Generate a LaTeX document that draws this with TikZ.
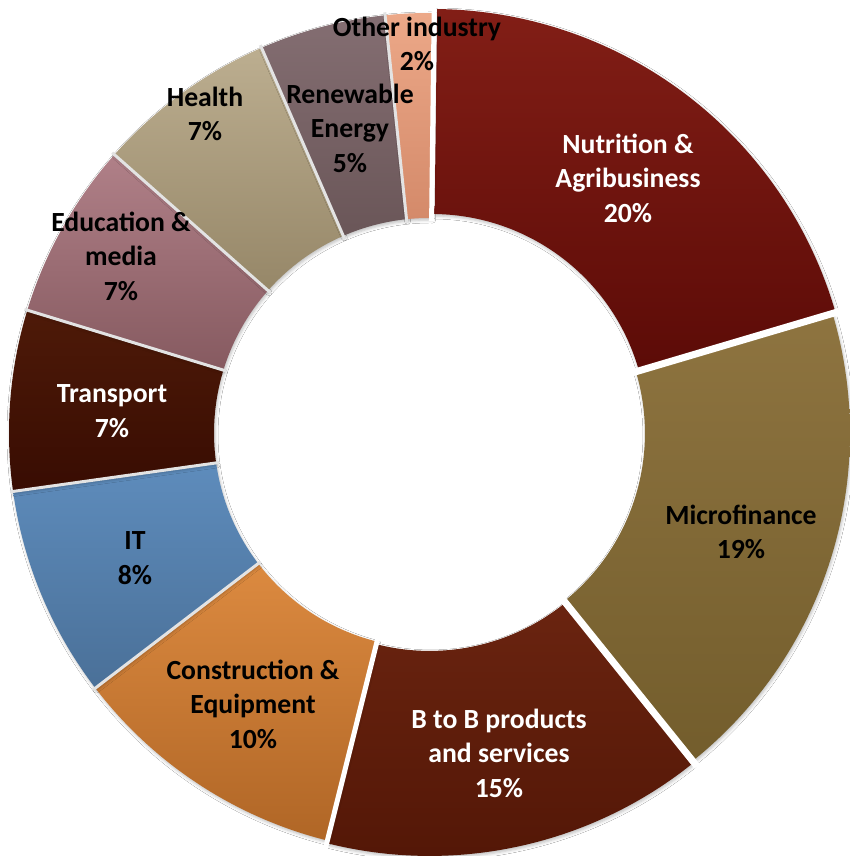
\documentclass[tikz,border=0pt]{standalone}
\usepackage{fontspec}
\setmainfont{Carlito}
\usetikzlibrary{shadows.blur}
\definecolor{nutT}{HTML}{821E16}\definecolor{nutB}{HTML}{5C0B07}
\definecolor{micT}{HTML}{8E7440}\definecolor{micB}{HTML}{735D2C}
\definecolor{btbT}{HTML}{6A2410}\definecolor{btbB}{HTML}{521606}
\definecolor{conT}{HTML}{DC8A40}\definecolor{conB}{HTML}{B06626}
\definecolor{itT}{HTML}{5E8CBC}\definecolor{itB}{HTML}{4A7098}
\definecolor{trT}{HTML}{4E1A08}\definecolor{trB}{HTML}{380C02}
\definecolor{edT}{HTML}{B08088}\definecolor{edB}{HTML}{865A60}
\definecolor{heT}{HTML}{BCAE90}\definecolor{heB}{HTML}{968768}
\definecolor{reT}{HTML}{846E72}\definecolor{reB}{HTML}{6A5658}
\definecolor{otT}{HTML}{ECA888}\definecolor{otB}{HTML}{D48A6A}
\def\Rout{420}
\def\Rin{215}
\newcommand{\ringslice}[5]{%
  \path[top color=#3, bottom color=#4, shift={({(#1+#2)/2}:#5)},
        blur shadow={shadow xshift=1pt, shadow yshift=-2pt, shadow blur radius=3pt, shadow opacity=25}]
    (#1:\Rout) arc[start angle=#1, end angle=#2, radius=\Rout]
    -- (#2:\Rin) arc[start angle=#2, end angle=#1, radius=\Rin] -- cycle;}
\tikzset{
  lbl/.style={font=\bfseries\fontsize{27.7}{34.5}\selectfont, align=center, inner sep=0pt},
  sepline/.style={draw=gray!22, line width=3pt},
  gapline/.style={draw=white, line width=7pt},
}
\begin{document}
\begin{tikzpicture}[x=1pt,y=1pt]
\fill[white] (0,0) rectangle (850,856);
\useasboundingbox (0,0) rectangle (850,856);
\begin{scope}[shift={(429,423)}]
  \ringslice{89.3}{16.5}{nutT}{nutB}{5}
  \ringslice{16.5}{-51.2}{micT}{micB}{1}
  \ringslice{-51.2}{-104}{btbT}{btbB}{3}
  \ringslice{-104}{-142.6}{conT}{conB}{0}
  \ringslice{-142.6}{-172}{itT}{itB}{0}
  \ringslice{-172}{-197}{trT}{trB}{0}
  \ringslice{-197}{-221.5}{edT}{edB}{0}
  \ringslice{-221.5}{-246.5}{heT}{heB}{0}
  \ringslice{-246.5}{-264}{reT}{reB}{0}
  \ringslice{-264}{-270.7}{otT}{otB}{0}
  % separators
  \foreach \a in {-142.6,-172,-197,-221.5,-246.5,-264}
    \draw[sepline] (\a:\Rin-3) -- (\a:\Rout+3);
  \foreach \a in {16.5,-51.2}
    \draw[gapline] (\a:\Rin-3) -- (\a:\Rout+8);
  \foreach \a in {-104,89.3}
    \draw[gapline, line width=5pt] (\a:\Rin-3) -- (\a:\Rout+8);
\end{scope}
\node[lbl, text=white] (nut) at (628,678) {Nutrition \&\\Agribusiness\\20\%};
\node[lbl] (mic) at (741,324) {Microfinance\\19\%};
\node[lbl, text=white] (btb) at (499,103) {B to B products\\and services\\15\%};
\node[lbl] (con) at (253,152) {Construction \&\\Equipment\\10\%};
\node[lbl] (it) at (135,298) {IT\\8\%};
\node[lbl, text=white] (tr) at (112,445) {Transport\\7\%};
\node[lbl] (ed) at (121,600) {Education \&\\media\\7\%};
\node[lbl] (he) at (205,742) {Health\\7\%};
\node[lbl] (re) at (350,728) {Renewable\\Energy\\5\%};
\node[lbl] (ot) at (417,812) {Other industry\\2\%};
\end{tikzpicture}
\end{document}
